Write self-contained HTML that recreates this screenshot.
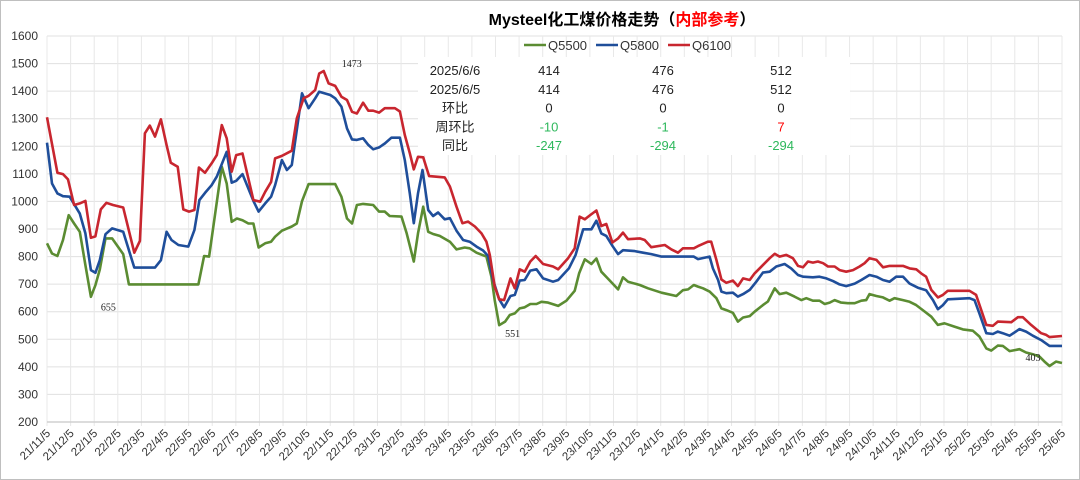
<!DOCTYPE html>
<html><head><meta charset="utf-8">
<style>
body{margin:0;background:#fff;}
svg{display:block;font-family:"Liberation Sans","Noto Sans CJK SC",sans-serif;}
</style></head>
<body>
<svg id="chart" width="1080" height="480" viewBox="0 0 1080 480">
<rect x="0.5" y="0.5" width="1079" height="479" fill="#fff" stroke="#bfbfbf"/>
<text x="622" y="25" text-anchor="middle" font-size="16" font-weight="bold" fill="#000">Mysteel化工煤价格走势（<tspan fill="#ff0000">内部参考</tspan>）</text>
<g id="grid"></g>
<g id="yaxis"></g>
<g id="xaxis"></g>
<g id="series"></g>
<g id="table"></g>
<g id="legend"></g>
<g id="annot"></g>
</svg>
<script>
const yTicks=[200,300,400,500,600,700,800,900,1000,1100,1200,1300,1400,1500,1600];
const xLabels=["21/11/5","21/12/5","22/1/5","22/2/5","22/3/5","22/4/5","22/5/5","22/6/5","22/7/5","22/8/5","22/9/5","22/10/5","22/11/5","22/12/5","23/1/5","23/2/5","23/3/5","23/4/5","23/5/5","23/6/5","23/7/5","23/8/5","23/9/5","23/10/5","23/11/5","23/12/5","24/1/5","24/2/5","24/3/5","24/4/5","24/5/5","24/6/5","24/7/5","24/8/5","24/9/5","24/10/5","24/11/5","24/12/5","25/1/5","25/2/5","25/3/5","25/4/5","25/5/5","25/6/5"];
// months since 21/11/5
const q6100Months=[0,0.44,0.68,0.89,1.15,1.39,1.63,1.86,2.05,2.28,2.52,2.80,3.23,3.70,3.94,4.15,4.36,4.58,4.83,5.07,5.25,5.54,5.78,6.02,6.25,6.44,6.70,6.98,7.20,7.41,7.62,7.83,8.02,8.29,8.75,9.04,9.25,9.50,9.67,9.96,10.38,10.59,10.88,11.09,11.37,11.54,11.73,11.94,12.22,12.48,12.72,12.93,13.14,
13.40,13.62,13.83,14.08,14.32,14.75,14.96,15.17,15.38,15.55,15.73,15.95,16.20,16.44,16.86,17.08,17.36,17.61,17.85,18.14,18.42,18.63,18.77,18.98,19.17,19.38,19.65,19.83,20.04,20.25,20.49,20.72,21.03,21.45,21.67,22.09,22.37,22.58,22.80,23.04,23.29,23.50,23.71,23.97,24.21,24.42,24.63,25.13,25.34,25.62,26.19,26.47,26.75,26.96,27.42,27.60,
28.02,28.16,28.38,28.59,28.80,29.08,29.29,29.51,29.79,30.00,30.35,30.64,30.85,31.06,31.34,31.62,31.84,32.05,32.26,32.47,32.68,32.90,33.11,33.39,33.60,33.88,34.17,34.45,34.66,34.87,35.16,35.44,35.72,36.00,36.29,36.57,36.85,37.06,37.27,37.49,37.77,37.98,38.19,39.11,39.39,39.82,40.10,40.31,40.88,41.16,41.37,41.72,42.15,42.36,42.50,43.03];
const q6100Values=[1305,1104,1099,1080,987,993,1002,868,873,971,995,987,978,814,857,1247,1275,1235,1298,1204,1140,1126,971,963,969,1123,1104,1138,1168,1277,1229,1108,1168,1174,1005,999,1035,1071,1156,1165,1184,1301,1374,1383,1404,1464,1473,1428,1419,1380,1368,1325,1319,
1358,1329,1329,1322,1338,1338,1326,1241,1175,1116,1162,1160,1092,1090,1087,1054,981,921,927,909,884,854,806,691,645,642,721,685,754,745,782,802,773,764,754,794,830,945,935,951,967,911,918,851,866,887,863,866,860,834,842,826,814,830,830,838,
854,854,788,717,705,713,693,721,715,739,769,794,810,800,806,794,766,761,782,778,782,776,764,764,751,745,751,764,776,794,788,761,766,766,766,757,754,739,727,679,652,661,676,676,661,552,549,564,562,580,580,552,522,516,508,512];
const q5800Months=[0,0.21,0.44,0.68,0.96,1.39,1.63,1.86,2.05,2.24,2.48,2.76,3.23,3.70,4.58,4.83,5.07,5.28,5.57,5.99,6.25,6.46,6.70,6.98,7.20,7.62,7.83,8.02,8.29,8.75,8.97,9.25,9.50,9.67,9.96,10.17,10.38,10.81,11.09,11.37,11.54,12.01,12.22,12.48,12.72,12.93,13.14,
13.40,13.62,13.83,14.08,14.32,14.60,14.96,15.17,15.38,15.55,15.73,15.92,16.16,16.37,16.58,16.86,17.08,17.36,17.64,17.92,18.21,18.49,18.70,18.91,19.17,19.38,19.65,19.83,20.04,20.25,20.49,20.75,21.03,21.45,21.67,22.13,22.41,22.73,23.08,23.29,23.50,23.71,23.97,24.21,24.42,24.92,25.27,25.62,26.05,26.33,27.42,27.60,
28.09,28.23,28.45,28.59,28.80,29.08,29.29,29.51,29.79,30.07,30.35,30.64,30.92,31.27,31.55,31.84,32.05,32.47,32.75,33.04,33.32,33.60,33.88,34.24,34.52,34.87,35.16,35.44,35.72,36.00,36.29,36.57,36.92,37.27,37.56,37.77,37.98,38.19,39.11,39.32,39.53,39.82,40.10,40.31,40.52,40.81,41.23,41.51,41.79,42.15,42.50,43.03];
const q5800Values=[1213,1065,1029,1019,1017,956,884,751,741,787,881,902,890,760,760,787,890,860,842,836,896,1005,1031,1059,1090,1180,1068,1075,1099,1002,963,993,1017,1059,1150,1114,1132,1392,1338,1374,1398,1386,1374,1344,1265,1225,1223,
1229,1205,1189,1196,1210,1231,1231,1150,1029,921,1029,1114,969,947,960,935,939,894,860,854,836,822,802,715,645,616,657,661,713,715,749,754,721,709,715,758,806,899,899,930,884,875,839,809,823,820,814,809,800,800,800,791,
800,757,715,673,667,669,655,664,679,709,742,745,764,773,757,733,727,725,727,721,711,699,693,702,715,733,727,715,709,727,727,702,687,678,642,609,624,645,649,642,594,522,519,528,522,513,537,528,513,497,476,476];
const q5500Months=[0,0.21,0.44,0.68,0.92,1.15,1.39,1.63,1.86,2.05,2.24,2.48,2.76,3.23,3.47,6.42,6.66,6.87,7.41,7.62,7.83,8.05,8.29,8.54,8.75,8.97,9.25,9.50,9.67,9.96,10.38,10.59,10.81,11.09,12.22,12.48,12.72,12.93,13.14,
13.40,13.83,14.08,14.32,14.53,15.03,15.25,15.55,15.73,15.95,16.16,16.37,16.65,17.08,17.36,17.71,17.92,18.21,18.63,18.84,18.98,19.17,19.42,19.62,19.83,20.04,20.25,20.49,20.75,20.96,21.24,21.67,22.02,22.37,22.56,22.80,23.08,23.29,23.50,23.77,24.21,24.42,24.63,25.13,25.48,26.05,26.68,26.96,27.18,27.42,27.60,
27.81,28.09,28.38,28.59,28.80,29.08,29.29,29.51,29.79,30.00,30.35,30.56,30.85,31.06,31.34,31.69,31.98,32.19,32.47,32.75,32.97,33.18,33.39,33.67,33.95,34.24,34.52,34.73,34.87,35.16,35.44,35.72,35.93,36.29,36.57,36.85,37.13,37.49,37.77,38.05,38.47,38.83,39.25,39.53,39.82,40.03,40.31,40.52,40.81,41.23,41.51,41.79,42.08,42.29,42.50,42.78,43.03];
const q5500Values=[848,811,802,860,950,920,890,769,654,696,753,866,866,809,699,699,802,800,1126,1065,926,938,932,920,920,833,848,854,872,894,909,920,1001,1063,1063,1017,938,920,987,
991,987,963,963,947,945,884,782,884,981,890,882,875,854,826,833,830,814,800,727,642,551,564,588,594,612,616,628,628,636,633,621,640,676,739,790,773,793,745,721,681,725,709,697,685,669,657,678,681,697,691,
685,673,649,612,606,596,564,579,584,600,624,637,685,664,669,655,642,649,640,640,628,633,642,633,631,631,640,642,664,657,652,640,649,642,636,624,606,582,552,558,546,536,531,510,467,459,477,476,457,464,452,446,437,419,403,419,414];
const seriesNames=["Q5500","Q5800","Q6100"];
const seriesColors=["#5b8c32","#1f4e9a","#c8262f"];
const tableRowLabels=["2025/6/6","2025/6/5","环比","周环比","同比"];
const tableQ5500=[414,414,0,-10,-247];
const tableQ5800=[476,476,0,-1,-294];
const tableQ6100=[512,512,0,7,-294];
const annotLabels=[{s:0,m:1.86,v:655,dx:10,dy:14},{s:0,m:19.17,v:551,dx:6,dy:12},{s:2,m:11.73,v:1473,dx:18,dy:-4},{s:0,m:42.5,v:403,dx:-24,dy:-5}];

const NS="http://www.w3.org/2000/svg";
const X0=47,X1=1062,Y0=422,Y1=36,vMin=200,vMax=1600,nM=43.03;
const xs=m=>X0+(m/nM)*(X1-X0);
const ys=v=>Y0-(v-vMin)/(vMax-vMin)*(Y0-Y1);
function mk(tag,attrs,parent){const e=document.createElementNS(NS,tag);for(const k in attrs)e.setAttribute(k,attrs[k]);parent.appendChild(e);return e;}
const grid=document.getElementById('grid'),yax=document.getElementById('yaxis'),xax=document.getElementById('xaxis');
yTicks.forEach(t=>{
  const l=mk('line',{x1:X0,x2:X1,y1:ys(t),y2:ys(t),stroke:'#e0e0e0','stroke-width':1},grid);
  
  
  const tx=mk('text',{x:38,y:ys(t)+4,'text-anchor':'end','font-size':12,fill:'#333'},yax);
  tx.textContent=t;
  
  
});
xLabels.forEach((lab,i)=>{
  const x=X0+i*(X1-X0)/43;
  const l=mk('line',{x1:x,x2:x,y1:Y1,y2:Y0+4,stroke:'#e8e8e8','stroke-width':1},grid);
  
  
  const tx=mk('text',{x:x+4,y:Y0+12,'text-anchor':'end','font-size':11.5,fill:'#333',transform:`rotate(-45 ${x+4} ${Y0+12})`},xax);
  tx.textContent=lab;
  
  
});
const ax=mk('line',{x1:X0,x2:X1,y1:Y0,y2:Y0,stroke:'#d0d0d0','stroke-width':1.5},xax);


const ser=document.getElementById('series');
const allM=[q5500Months,q5800Months,q6100Months],allV=[q5500Values,q5800Values,q6100Values];
allM.forEach((ms,s)=>{
  const pts=ms.map((m,i)=>xs(m).toFixed(1)+','+ys(allV[s][i]).toFixed(1)).join(' ');
  const p=mk('polyline',{points:pts,fill:'none',stroke:seriesColors[s],'stroke-width':2.6,'stroke-linejoin':'round'},ser);
  
  
});
// table
const tb=document.getElementById('table');
const bg=mk('rect',{x:418,y:57,width:432,height:98,fill:'#fff'},tb);


const cols=[tableQ5500,tableQ5800,tableQ6100],colX=[549,663,781];
tableRowLabels.forEach((lab,r)=>{
  const y=75+r*18.8;
  const t=mk('text',{x:455,y:y,'text-anchor':'middle','font-size':13,fill:'#222'},tb);
  t.textContent=lab;
  
  
  cols.forEach((c,ci)=>{
    const v=c[r];let col='#222';
    if(r>=2&&v<0)col='#2eb85c';if(r>=2&&v>0)col='#ff0000';
    const tv=mk('text',{x:colX[ci],y:y,'text-anchor':'middle','font-size':13,fill:col},tb);
    tv.textContent=v;
    
    
  });
});
// legend
const lg=document.getElementById('legend');
const lgX=[524,596,668];
seriesNames.forEach((n,i)=>{
  const l=mk('line',{x1:lgX[i],x2:lgX[i]+22,y1:45,y2:45,stroke:seriesColors[i],'stroke-width':2.5},lg);
  
  
  const t=mk('text',{x:lgX[i]+24,y:50,'font-size':13,fill:'#333'},lg);
  t.textContent=n;
  
  
});
const an=document.getElementById('annot');
annotLabels.forEach(a=>{
  const t=mk('text',{x:xs(a.m)+a.dx,y:ys(a.v)+a.dy,'font-size':10,'font-family':'Liberation Serif, serif',fill:'#222'},an);
  t.textContent=a.v;
  
  
});
</script>
</body></html>
